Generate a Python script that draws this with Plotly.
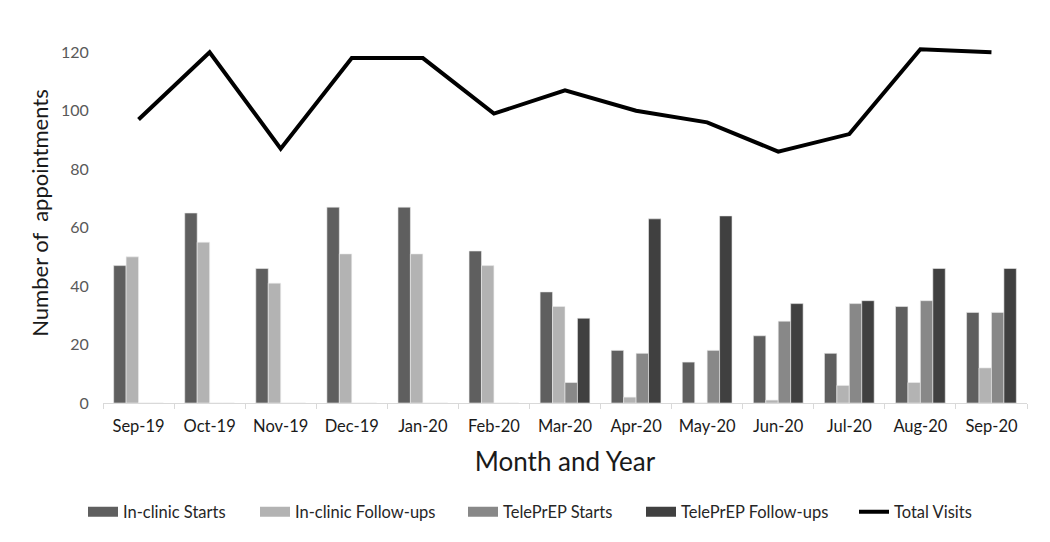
import plotly.graph_objects as go

months = ["Sep-19", "Oct-19", "Nov-19", "Dec-19", "Jan-20", "Feb-20", "Mar-20",
          "Apr-20", "May-20", "Jun-20", "Jul-20", "Aug-20", "Sep-20"]
inclinic_starts = [47, 65, 46, 67, 67, 52, 38, 18, 14, 23, 17, 33, 31]
inclinic_followups = [50, 55, 41, 51, 51, 47, 33, 2, 0, 1, 6, 7, 12]
teleprep_starts = [0, 0, 0, 0, 0, 0, 7, 17, 18, 28, 34, 35, 31]
teleprep_followups = [0, 0, 0, 0, 0, 0, 29, 63, 64, 34, 35, 46, 46]
total_visits = [97, 120, 87, 118, 118, 99, 107, 100, 96, 86, 92, 121, 120]
y_ticks = [0, 20, 40, 60, 80, 100, 120]

FONT = "Lato"
LEG_FONT = dict(family=FONT, size=16.5, color="#262626")
# figure sits 8px inside the page (body margin); plot area 924x380
L, T, PW, PH = 95, 15, 924, 380
W, H = 1034, 526

fig = go.Figure()
bar_specs = [
    ("In-clinic Starts", inclinic_starts, "#5f5f5f", "legend"),
    ("In-clinic Follow-ups", inclinic_followups, "#b3b3b3", "legend2"),
    ("TelePrEP Starts", teleprep_starts, "#888888", "legend3"),
    ("TelePrEP Follow-ups", teleprep_followups, "#404040", "legend4"),
]
for name, vals, col, leg in bar_specs:
    fig.add_trace(go.Bar(x=months, y=vals, name=name, marker_color=col,
                         marker_line=dict(color="#ececec", width=0.6),
                         legendgroup=name, showlegend=False))
    # legend-only entry drawn as a wide swatch
    fig.add_trace(go.Scatter(x=[months[0]], y=[None], name=name, mode="lines",
                             line=dict(color=col, width=10), legendgroup=name,
                             legend=leg, hoverinfo="skip"))
fig.add_trace(go.Scatter(x=months, y=total_visits, name="Total Visits", mode="lines",
                         line=dict(color="black", width=4), legend="legend5"))

text_starts = [128, 300, 508, 686, 899]  # screen px of legend text starts
leg_names = ["legend", "legend2", "legend3", "legend4", "legend5"]
legends = {}
for ln, ts in zip(leg_names, text_starts):
    legends[ln] = dict(orientation="h", x=(ts - 45 - 103) / PW, xanchor="left",
                       y=-0.287, yanchor="middle", font=LEG_FONT,
                       bgcolor="rgba(0,0,0,0)")

fig.update_layout(
    width=W, height=H,
    paper_bgcolor="white", plot_bgcolor="white",
    margin=dict(l=L, r=W - L - PW, t=T, b=H - T - PH, autoexpand=False),
    barmode="group", bargap=0.3, bargroupgap=0,
    font=dict(family=FONT, color="#595959", size=14),
    showlegend=True,
    **legends,
)
fig.update_xaxes(showgrid=False, showline=True, linecolor="#d9d9d9", linewidth=1,
                 ticks="outside", tickson="boundaries", tickcolor="#d9d9d9", ticklen=5,
                 automargin=False, ticklabelstandoff=8,
                 tickfont=dict(family=FONT, size=16.5, color="#1a1a1a"),
                 title=dict(text="Month and Year", font=dict(family=FONT, size=26, color="#1a1a1a"),
                            standoff=18))
fig.update_yaxes(range=[0, 130], tickvals=y_ticks, showgrid=False, zeroline=False,
                 showline=False, ticks="outside", ticklen=10, tickcolor="white",
                 automargin=False,
                 tickfont=dict(family=FONT, size=16, color="#595959"),
                 title=dict(text="Number of  appointments",
                            font=dict(family=FONT, size=22, color="#1a1a1a"), standoff=6))
fig.write_html("out.html")
